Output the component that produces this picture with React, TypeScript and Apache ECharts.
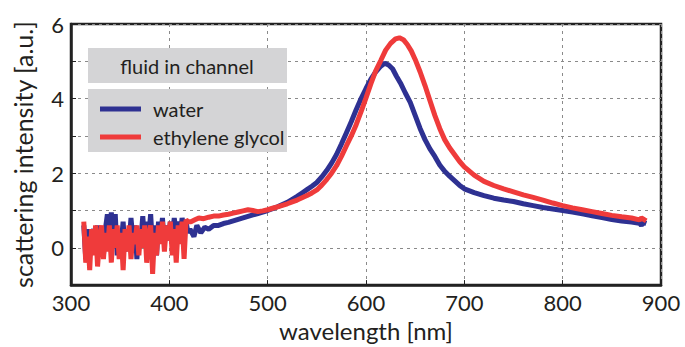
import React, { useEffect, useRef } from "react";
import * as echarts from "echarts";

const waterWavelength = [
  313, 315, 317, 319, 321, 323, 325, 327, 329, 331, 333, 335, 337, 339, 341, 343, 345, 347, 349, 351,
  353, 355, 357, 359, 361, 363, 365, 367, 369, 371, 373, 375, 377, 379, 381, 383, 385, 387, 389, 391,
  393, 395, 397, 399, 401, 403, 405, 407, 409, 411, 413, 415, 417, 419,
  421, 425, 428, 432, 436, 440, 445, 450, 455, 460, 465, 470, 475, 480, 485, 490, 495, 500, 505, 510,
  515, 520, 525, 530, 535, 540, 545, 550, 555, 560, 565, 570, 575, 580, 585, 590, 595, 600, 605, 610,
  615, 619, 623, 627, 631, 635, 640, 645, 650, 655, 660, 665, 670, 675, 680, 685, 690, 695, 700, 710,
  720, 730, 740, 750, 760, 770, 780, 790, 800, 810, 820, 830, 840, 850, 860, 870, 878, 880, 882, 885,
];
const waterIntensity = [
  0.6, -0.3, 0.5, -0.2, 0.3, 0.5, -0.1, 0.6, 0.0, 0.4, -0.2, 0.5, 0.9, 0.2, 0.95, 0.3, 0.9, -0.2, 0.4, 0.1,
  0.7, -0.1, 0.5, 0.1, 0.8, 0.2, 0.6, -0.3, 0.5, 0.2, 0.85, 0.1, 0.7, 0.3, 0.9, 0.0, 0.6, -0.2, 0.7, 0.3,
  0.8, 0.1, 0.6, 0.2, 0.7, 0.3, 0.8, 0.4, 0.7, 0.3, 0.8, 0.5, 0.7, 0.4,
  0.5, 0.3, 0.6, 0.4, 0.55, 0.5, 0.6, 0.6, 0.65, 0.68, 0.72, 0.76, 0.8, 0.84, 0.88, 0.92, 0.96, 1.0, 1.05, 1.1,
  1.16, 1.22, 1.3, 1.38, 1.47, 1.56, 1.65, 1.75, 1.9, 2.07, 2.27, 2.5, 2.78, 3.08, 3.38, 3.7, 4.0, 4.27, 4.52, 4.72,
  4.87, 4.95, 4.9, 4.8, 4.6, 4.42, 4.15, 3.9, 3.55, 3.2, 2.9, 2.65, 2.45, 2.22, 2.05, 1.92, 1.8, 1.68, 1.58, 1.48,
  1.4, 1.33, 1.28, 1.24, 1.18, 1.13, 1.08, 1.04, 1.0, 0.96, 0.91, 0.86, 0.81, 0.76, 0.72, 0.69, 0.66, 0.6, 0.68, 0.65,
];

const glycolWavelength = [
  313, 315, 317, 319, 321, 323, 325, 327, 329, 331, 333, 335, 337, 339, 341, 343, 345, 347, 349, 351,
  353, 355, 357, 359, 361, 363, 365, 367, 369, 371, 373, 375, 377, 379, 381, 383, 385, 387, 389, 391,
  393, 395, 397, 399, 401, 403, 405, 407, 409, 411, 413, 415, 417, 419,
  422, 426, 430, 435, 440, 445, 450, 455, 460, 465, 470, 475, 480, 485, 490, 495, 500, 505, 510, 515,
  520, 525, 530, 535, 540, 545, 550, 555, 560, 565, 570, 575, 580, 585, 590, 595, 600, 605, 610, 615,
  620, 625, 630, 634, 638, 642, 646, 650, 655, 660, 665, 670, 675, 680, 685, 690, 695, 700, 710, 720,
  730, 740, 750, 760, 770, 780, 790, 800, 810, 820, 830, 840, 850, 860, 870, 878, 880, 885,
];
const glycolIntensity = [
  0.7, -0.4, 0.3, -0.6, 0.5, -0.2, 0.6, -0.5, 0.2, 0.6, -0.3, 0.4, -0.1, 0.6, -0.4, 0.5, 0.0, 0.6, -0.3, 0.4,
  -0.6, 0.5, -0.1, 0.6, -0.3, 0.4, 0.1, 0.6, -0.2, 0.5, 0.0, 0.6, -0.4, 0.3, 0.6, -0.7, 0.4, -0.2, 0.6, 0.1,
  0.7, -0.1, 0.6, 0.2, 0.7, -0.2, 0.5, -0.4, 0.6, 0.1, 0.7, -0.3, 0.75, 0.7,
  0.7, 0.75, 0.8, 0.78, 0.82, 0.85, 0.85, 0.88, 0.9, 0.93, 0.96, 0.99, 1.02, 1.0, 0.97, 0.99, 1.02, 1.06, 1.1, 1.14,
  1.18, 1.23, 1.28, 1.34, 1.4, 1.47, 1.55, 1.68, 1.83, 2.0, 2.2, 2.45, 2.73, 3.0, 3.3, 3.65, 4.02, 4.4, 4.75, 5.02,
  5.3, 5.48, 5.6, 5.63, 5.58, 5.45, 5.28, 5.05, 4.72, 4.35, 3.95, 3.55, 3.2, 2.9, 2.68, 2.5, 2.32, 2.17, 1.95, 1.78,
  1.67, 1.58, 1.5, 1.42, 1.35, 1.28, 1.2, 1.13, 1.07, 1.02, 0.97, 0.92, 0.87, 0.83, 0.8, 0.75, 0.8, 0.72,
];

const xTicks = { min: 300, max: 900, interval: 100 };
const yTicks = { min: -1, max: 6, interval: 1 };
const legendTitle = "fluid in channel";
const seriesNames = ["water", "ethylene glycol"];

const FONT = "Lato, 'Open Sans', sans-serif";
const TEXT = "#231f20";
const BLUE = "#2e3192";
const RED = "#ef3b3b";
const BOX = "#d4d4d6";

export default function App() {
  const ref = useRef<HTMLDivElement>(null);
  useEffect(() => {
    if (!ref.current) return;
    const chart = echarts.init(ref.current, undefined, { renderer: "svg" });
    const water = waterWavelength.map((w, i) => [w, waterIntensity[i]]);
    const glycol = glycolWavelength.map((w, i) => [w, glycolIntensity[i]]);
    chart.setOption({
      animation: false,
      backgroundColor: "#ffffff",
      textStyle: { fontFamily: FONT },
      grid: {
        left: 71,
        right: 24,
        top: 24,
        bottom: 58,
        show: true,
        borderColor: "#222222",
        borderWidth: 2.5,
        backgroundColor: "transparent",
      },
      graphic: [
        { type: "rect", left: 88, top: 48, shape: { width: 199, height: 35 }, style: { fill: BOX }, z: 1 },
        { type: "rect", left: 88, top: 89, shape: { width: 199, height: 63 }, style: { fill: BOX }, z: 1 },
        {
          type: "text",
          x: 187,
          y: 66,
          z: 2,
          style: {
            text: legendTitle,
            fill: TEXT,
            font: `20px ${FONT}`,
            align: "center",
            verticalAlign: "middle",
          },
        },
      ],
      legend: {
        orient: "vertical",
        left: 100,
        top: 99,
        padding: 0,
        itemWidth: 41,
        itemHeight: 5,
        itemGap: 8,
        icon: "rect",
        z: 5,
        textStyle: { fontSize: 20, lineHeight: 20, color: TEXT, fontFamily: FONT, padding: [0, 0, 0, 7] },
        data: seriesNames,
      },
      xAxis: {
        type: "value",
        min: xTicks.min,
        max: xTicks.max,
        interval: xTicks.interval,
        name: "wavelength [nm]",
        nameLocation: "middle",
        nameGap: 32,
        nameTextStyle: { fontSize: 24, color: TEXT, fontFamily: FONT },
        axisLine: { show: true, onZero: false, lineStyle: { color: "#222222", width: 2.5 } },
        axisTick: { show: true, inside: true, length: 5, lineStyle: { color: "#222222" } },
        axisLabel: { fontSize: 22, color: TEXT, margin: 6, fontFamily: FONT },
        splitLine: { show: true, lineStyle: { color: "#8a8a8a", type: [3, 4], width: 1 } },
      },
      yAxis: {
        type: "value",
        min: yTicks.min,
        max: yTicks.max,
        interval: yTicks.interval,
        name: "scattering intensity [a.u.]",
        nameLocation: "middle",
        nameGap: 36,
        nameTextStyle: { fontSize: 25, color: TEXT, fontFamily: FONT },
        axisLine: { show: true, onZero: false, lineStyle: { color: "#222222", width: 2.5 } },
        axisTick: { show: true, inside: true, length: 5, lineStyle: { color: "#222222" } },
        axisLabel: {
          fontSize: 22,
          color: TEXT,
          margin: 7,
          fontFamily: FONT,
          formatter: (v: number) => (v % 2 === 0 ? String(v) : ""),
        },
        splitLine: { show: true, lineStyle: { color: "#8a8a8a", type: [3, 4], width: 1 } },
      },
      series: [
        {
          name: seriesNames[0],
          type: "line",
          data: water,
          showSymbol: false,
          color: BLUE,
          lineStyle: { width: 5, color: BLUE },
          z: 3,
        },
        {
          name: seriesNames[1],
          type: "line",
          data: glycol,
          showSymbol: false,
          color: RED,
          lineStyle: { width: 5, color: RED },
          z: 4,
        },
      ],
    });
    return () => chart.dispose();
  }, []);
  return (
    <div
      ref={ref}
      style={{ position: "fixed", left: 0, top: 0, width: 685, height: 347 }}
    />
  );
}
